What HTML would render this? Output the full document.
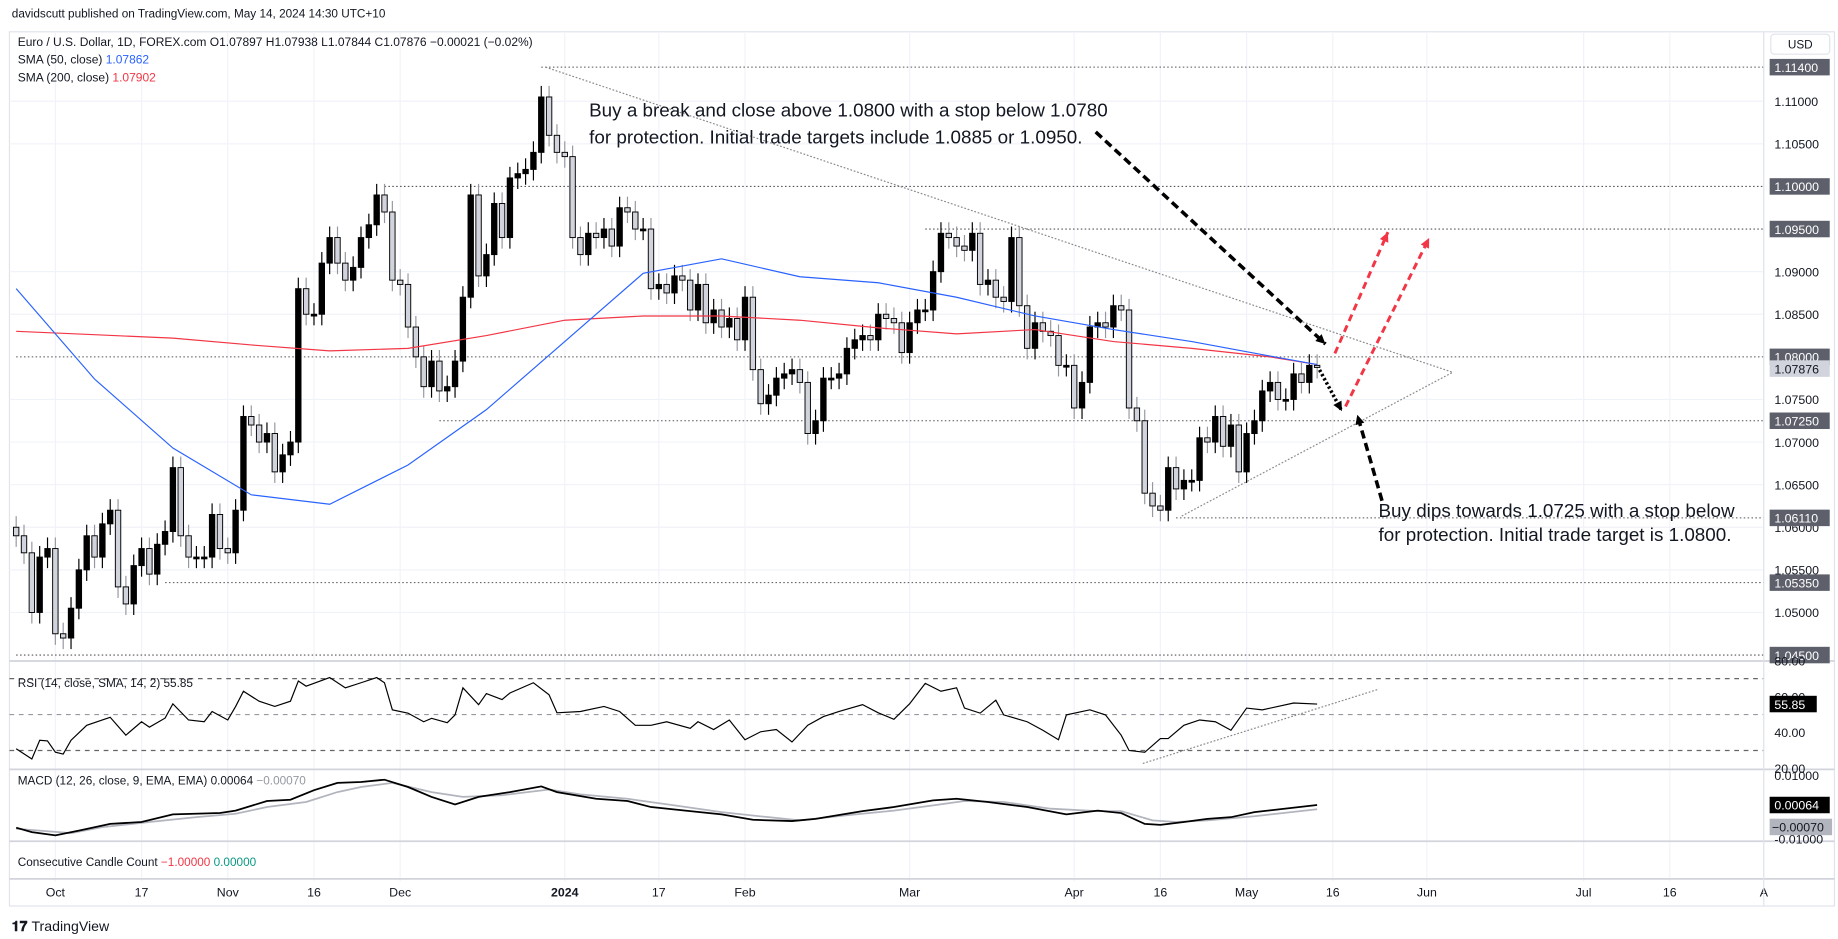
<!DOCTYPE html>
<html><head><meta charset="utf-8"><style>
html,body{margin:0;padding:0;background:#fff;}
svg{display:block;font-family:"Liberation Sans",sans-serif;}
</style></head><body>
<svg id="c" width="1838" height="939" viewBox="0 0 1560 797" xmlns="http://www.w3.org/2000/svg">
<text x="10" y="15" font-size="10" fill="#131722">davidscutt published on TradingView.com, May 14, 2024 14:30 UTC+10</text>
<rect x="8" y="27" width="1549" height="742" fill="none" stroke="#e0e3eb"/>
<g id="grid"></g>
<g id="levels"></g>
<g id="price"></g>
<g id="ind"></g>
<g id="ann"></g>
<g id="axes"></g>
<text x="15" y="39" font-size="10.2" fill="#131722">Euro / U.S. Dollar, 1D, FOREX.com  O1.07897  H1.07938  L1.07844  C1.07876  −0.00021 (−0.02%)</text>
<text x="15" y="54" font-size="10.2" fill="#131722">SMA (50, close) <tspan fill="#2962ff">1.07862</tspan></text>
<text x="15" y="69" font-size="10.2" fill="#131722">SMA (200, close) <tspan fill="#f23645">1.07902</tspan></text>
<text x="15" y="583" font-size="10" fill="#131722">RSI (14, close, SMA, 14, 2)  55.85</text>
<text x="15" y="666" font-size="10" fill="#131722">MACD (12, 26, close, 9, EMA, EMA)  0.00064 <tspan fill="#9598a1">−0.00070</tspan></text>
<text x="15" y="735" font-size="10" fill="#131722">Consecutive Candle Count  <tspan fill="#f23645">−1.00000</tspan> <tspan fill="#089981">0.00000</tspan></text>
<text x="10" y="790" font-size="12" font-weight="bold" fill="#131722">𝟏𝟕 <tspan font-weight="normal">TradingView</tspan></text>
<rect x="1503" y="29" width="50" height="17" rx="3" fill="#fff" stroke="#e0e3eb"/>
<text x="1528" y="41" font-size="10" text-anchor="middle" fill="#131722">USD</text>
<text x="500" y="99" font-size="16" fill="#131722">Buy a break and close above 1.0800 with a stop below 1.0780</text>
<text x="500" y="122" font-size="16" fill="#131722">for protection. Initial trade targets include 1.0885 or 1.0950.</text>
<text x="1170" y="439" font-size="16" fill="#131722">Buy dips towards 1.0725 with a stop below</text>
<text x="1170" y="459" font-size="16" fill="#131722">for protection. Initial trade target is 1.0800.</text>
</svg>
<script>
// ---- data ----
const closes=[1.0590,1.0570,1.0500,1.0565,1.0575, 1.0475,1.0470,1.0505,1.0550,1.0590, 1.0565,1.0604,1.0620,1.0530,1.0510,
1.0555,1.0575,1.0545,1.0580,1.0595, 1.0670,1.0590,1.0565,1.0565,1.0565, 1.0615,1.0575,1.0570,1.0620,1.0730,
1.0720,1.0700,1.0710,1.0665,1.0685, 1.0700,1.0880,1.0850,1.0850,1.0910, 1.0940,1.0910,1.0890,1.0905,1.0940,
1.0955,1.0990,1.0970,1.0890,1.0885, 1.0835,1.0800,1.0765,1.0795,1.0760, 1.0765,1.0795,1.0870,1.0990,1.0895,
1.0920,1.0980,1.0940,1.1010,1.1015, 1.1020,1.1040,1.1105,1.1060,1.1040, 1.1035,1.0940,1.0920,1.0945,1.0940,
1.0950,1.0930,1.0975,1.0970,1.0950, 1.0950,1.0880,1.0885,1.0875,1.0895, 1.0890,1.0855,1.0885,1.0840,1.0855,
1.0835,1.0845,1.0820,1.0870,1.0785, 1.0745,1.0755,1.0775,1.0780,1.0785, 1.0770,1.0710,1.0725,1.0775,1.0775,
1.0780,1.0810,1.0820,1.0825,1.0820, 1.0850,1.0845,1.0840,1.0805,1.0840, 1.0855,1.0855,1.0900,1.0945,1.0940,
1.0930,1.0925,1.0945,1.0885,1.0890, 1.0870,1.0865,1.0940,1.0860,1.0810, 1.0840,1.0830,1.0825,1.0790,1.0790,
1.0740,1.0770,1.0835,1.0840,1.0835, 1.0860,1.0855,1.0740,1.0725,1.0640, 1.0625,1.0620,1.0670,1.0645,1.0655,
1.0655,1.0705,1.0700,1.0730,1.0695, 1.0720,1.0665,1.0710,1.0725,1.0760, 1.0770,1.0750,1.0750,1.0780,1.0770,
1.0790,1.07876];
const firstOpen=1.0600;
const smaBars=[0,10,20,30,40,50,60,70,80,90,100,110,120,130,140,150,160,166];
const sma50=[1.0880,1.0774,1.0693,1.0638,1.0627,1.0673,1.0738,1.0818,1.0898,1.0915,1.0894,1.0887,1.0870,1.0848,1.0832,1.0818,1.0801,1.0791];
const sma200=[1.0830,1.0826,1.0822,1.0814,1.0807,1.0810,1.0825,1.0843,1.0848,1.0848,1.0843,1.0834,1.0827,1.0832,1.0818,1.0810,1.0800,1.0791];
const rsiBars=[0,2,3,4,5,6,7,9,11,12,14,16,17,19,20,22,24,25,27,28,29,31,33,35,36,37,40,42,44,46,47,48,50,52,53,55,56,57,59,60,62,63,66,68,69,72,75,77,79,81,83,86,87,89,91,93,95,97,99,101,103,105,108,110,112,114,116,118,120,121,123,125,126,129,131,133,134,137,139,141,142,144,146,147,149,151,153,155,157,159,161,163,166];
const rsiVals=[31,25.3,35.7,35.3,29,28,35.7,44,47,48.5,38.5,46,43,48,56,47,46,51.7,47,54.5,63,57.4,54.5,57.4,68.7,65.8,70.6,64.9,67.7,70.6,67.7,52.6,50.8,46,47.9,45.5,49.8,64.9,55.5,61.7,58.3,62,67.7,61,51,51.7,54.5,51.7,44,44,46,42.3,46,41.7,47,36,40.4,41.7,34.7,44,48.9,51.7,55.5,51,47.4,56,67.4,63,64.9,53.6,50.8,58,49.8,46,41.3,36,49.8,52.6,49.8,38.5,30,29,36.6,36.6,44,47,46,41.3,53.6,52.6,54.5,56.4,55.85];
const macdBars=[0,2,5,8,12,16,20,26,28,32,35,38,41,44,47,50,53,56,59,63,67,69,74,78,81,86,90,94,99,102,108,112,117,120,124,129,134,138,141,144,146,149,152,155,158,166];
const macdVals=[-0.0065,-0.0079,-0.0089,-0.0074,-0.0053,-0.0047,-0.0023,-0.0019,-0.0011,0.0019,0.0023,0.0053,0.0076,0.0079,0.0086,0.0063,0.0032,0.0008,0.0032,0.0047,0.0065,0.0047,0.0026,0.0019,0,-0.0013,-0.0023,-0.0040,-0.0044,-0.0037,-0.0013,0,0.0021,0.0026,0.0016,0,-0.0023,-0.0011,-0.0019,-0.0053,-0.0056,-0.0047,-0.0037,-0.0032,-0.0016,0.00064];
const sigBars=[0,4,7,11,17,23,28,32,37,41,44,48,53,57,62,68,72,78,84,90,96,100,106,112,117,121,126,132,138,141,145,148,152,158,166];
const sigVals=[-0.0068,-0.0076,-0.0082,-0.0063,-0.0047,-0.0032,-0.0021,0,0.0016,0.0047,0.0063,0.0076,0.0047,0.0032,0.0037,0.0055,0.0040,0.0026,0.0005,-0.0016,-0.0032,-0.0042,-0.0026,-0.0011,0.0005,0.0019,0.0016,-0.0005,-0.0013,-0.0013,-0.0042,-0.0047,-0.0042,-0.0029,-0.0007];
const priceTicks=[1.110,1.105,1.090,1.085,1.075,1.070,1.065,1.060,1.055,1.050];
const levelVals=[1.114,1.100,1.095,1.0725,1.0611,1.0535,1.045,1.080];
const levelStart=[67,47,116,54,148,19,0,0];
const timeLabels=["Oct","17","Nov","16","Dec","2024","17","Feb","Mar","Apr","16","May","16","Jun","Jul","16","A"];
const timeBars=[5,16,27,38,49,70,82,93,114,135,146,157,168,180,200,211,223];
// ---- scales ----
const X=i=>13.7+i*6.652;
const Y=p=>57+(1.114-p)*499/0.069;
const YR=v=>576+(70-v)*1.525;
const YM=v=>685-v*2700;
const NS="http://www.w3.org/2000/svg";
function mk(tag,attrs,parent){const e=document.createElementNS(NS,tag);for(const k in attrs)e.setAttribute(k,attrs[k]);document.getElementById(parent).appendChild(e);return e;}
// grid
timeBars.forEach((b,i)=>{
  const g=mk('line',{x1:X(b),x2:X(b),y1:28,y2:748,stroke:'#f0f3fa'},'grid');
  
  
  const t=mk('text',{x:X(b),y:761,'font-size':10.5,'text-anchor':'middle',fill:'#131722','font-weight':timeLabels[i]==='2024'?'bold':'normal'},'axes');
  t.textContent=timeLabels[i];
  
  
});
priceTicks.forEach(p=>{
  const g=mk('line',{x1:8,x2:1497,y1:Y(p),y2:Y(p),stroke:'#f0f3fa'},'grid');
  
  
  const t=mk('text',{x:1506,y:Y(p)+4,'font-size':10.5,fill:'#131722'},'axes');
  t.textContent=p.toFixed(5);
  
  
});
// pane separators
[[561,'price-pane-border'],[653,'rsi-pane-border'],[714,'macd-pane-border'],[746,'count-pane-border']].forEach(a=>{
  const l=mk('line',{x1:8,x2:1557,y1:a[0],y2:a[0],stroke:'#d1d4dc','stroke-width':1.5},'axes');
  
  
});
const vb=mk('line',{x1:1497,x2:1497,y1:27,y2:769,stroke:'#e0e3eb'},'axes');


// levels
levelVals.forEach((v,i)=>{
  const l=mk('line',{x1:X(levelStart[i]),x2:1497,y1:Y(v),y2:Y(v),stroke:'#555','stroke-dasharray':'1.3,2','stroke-width':0.9},'levels');
  
  
  const r=mk('rect',{x:1502,y:Y(v)-7,width:51,height:14,fill:'#5d606b'},'axes');
  
  
  const t=mk('text',{x:1506,y:Y(v)+4,'font-size':10.5,fill:'#fff'},'axes');
  t.textContent=v.toFixed(5);
  
  
});
const last=closes[closes.length-1];
const cr=mk('rect',{x:1502,y:Y(last)-6,width:51,height:14,fill:'#d1d4dc'},'axes');


const ct=mk('text',{x:1506,y:Y(last)+5,'font-size':10.5,fill:'#131722'},'axes');
ct.textContent=last.toFixed(5);


// candles
closes.forEach((c,i)=>{
  const o=i===0?firstOpen:closes[i-1];
  const up=c>=o;
  const hi=Math.max(o,c)+0.0013, lo=Math.min(o,c)-0.0013;
  const w=mk('line',{x1:X(i),x2:X(i),y1:Y(hi),y2:Y(lo),stroke:up?'#000':'#9598a1'},'price');
  
  
  const top=Y(Math.max(o,c)),h=Math.max(1.5,Math.abs(Y(o)-Y(c)));
  const b=mk('rect',{x:X(i)-2.3,y:top,width:4.6,height:h,fill:up?'#000':'#d1d4dc',stroke:'#000','stroke-width':0.8},'price');
  
  
});
function path(bars,vals,fy){return bars.map((b,i)=>(i?'L':'M')+X(b).toFixed(1)+','+fy(vals[i]).toFixed(1)).join('');}
const s200=mk('path',{d:path(smaBars,sma200,Y),fill:'none',stroke:'#f23645','stroke-width':1},'price');


const s50=mk('path',{d:path(smaBars,sma50,Y),fill:'none',stroke:'#2962ff','stroke-width':1},'price');


// RSI
[70,50,30].forEach(v=>{
  const l=mk('line',{x1:8,x2:1497,y1:YR(v),y2:YR(v),stroke:v===50?'#9598a1':'#666','stroke-dasharray':'4,4'},'ind');
  
  
});
[80,60,40,20].forEach(v=>{
  const t=mk('text',{x:1506,y:YR(v)+4,'font-size':10.5,fill:'#131722'},'axes');
  t.textContent=v.toFixed(2);
  
  
});
const rl=mk('path',{d:path(rsiBars,rsiVals,YR),fill:'none',stroke:'#000','stroke-width':1},'ind');


const rt=mk('rect',{x:1502,y:YR(rsiVals[rsiVals.length-1])-7,width:40,height:14,fill:'#000'},'axes');


const rtt=mk('text',{x:1506,y:YR(rsiVals[rsiVals.length-1])+4,'font-size':10.5,fill:'#fff'},'axes');
rtt.textContent=rsiVals[rsiVals.length-1].toFixed(2);


const rtl=mk('line',{x1:970,y1:648,x2:1170,y2:585,stroke:'#888','stroke-dasharray':'1.5,1.5'},'ind');


// MACD
[0.01,-0.01].forEach(v=>{
  const t=mk('text',{x:1506,y:YM(v)+4,'font-size':10.5,fill:'#131722'},'axes');
  t.textContent=v.toFixed(5);
  
  
});
const sg=mk('path',{d:path(sigBars,sigVals,YM),fill:'none',stroke:'#b2b5be','stroke-width':1.5},'ind');


const ml=mk('path',{d:path(macdBars,macdVals,YM),fill:'none',stroke:'#000','stroke-width':1.5},'ind');


const mv=macdVals[macdVals.length-1], sv=sigVals[sigVals.length-1];
const mt=mk('rect',{x:1502,y:YM(mv)-7,width:51,height:14,fill:'#000'},'axes');


const mtt=mk('text',{x:1506,y:YM(mv)+4,'font-size':10.5,fill:'#fff'},'axes');
mtt.textContent=mv.toFixed(5);


const st=mk('rect',{x:1502,y:YM(sv)+8,width:53,height:14,fill:'#b2b5be'},'axes');


const stt=mk('text',{x:1504,y:YM(sv)+19,'font-size':10.5,fill:'#131722'},'axes');
stt.textContent=sv.toFixed(5).replace('-','−');


// annotations
const t1=mk('line',{x1:463,y1:57,x2:1233,y2:316,stroke:'#888','stroke-dasharray':'1.5,1.5'},'ann');


const t2=mk('line',{x1:1003,y1:438,x2:1233,y2:316,stroke:'#888','stroke-dasharray':'1.5,1.5'},'ann');


function arrow(x1,y1,x2,y2,col,dash,w,name){
  const l=mk('line',{x1:x1,y1:y1,x2:x2,y2:y2,stroke:col,'stroke-width':w,'stroke-dasharray':dash},'ann');
  
  
  const a=Math.atan2(y2-y1,x2-x1),s=9;
  const p=[[x2,y2],[x2-s*Math.cos(a-0.45),y2-s*Math.sin(a-0.45)],[x2-s*Math.cos(a+0.45),y2-s*Math.sin(a+0.45)]];
  const h=mk('polygon',{points:p.map(q=>q.join(',')).join(' '),fill:col},'ann');
  
  
}
arrow(930,112,1125,292,'#000','7,4',3,'break-arrow');
arrow(1120,314,1139,349,'#000','2,2',3,'dip-arrow');
arrow(1173,425,1152,352,'#000','7,4',3,'dips-text-arrow');
arrow(1133,300,1178,197,'#f23645','6,4',2.5,'target-arrow-1');
arrow(1142,345,1213,202,'#f23645','6,4',2.5,'target-arrow-2');
</script>
</body></html>
